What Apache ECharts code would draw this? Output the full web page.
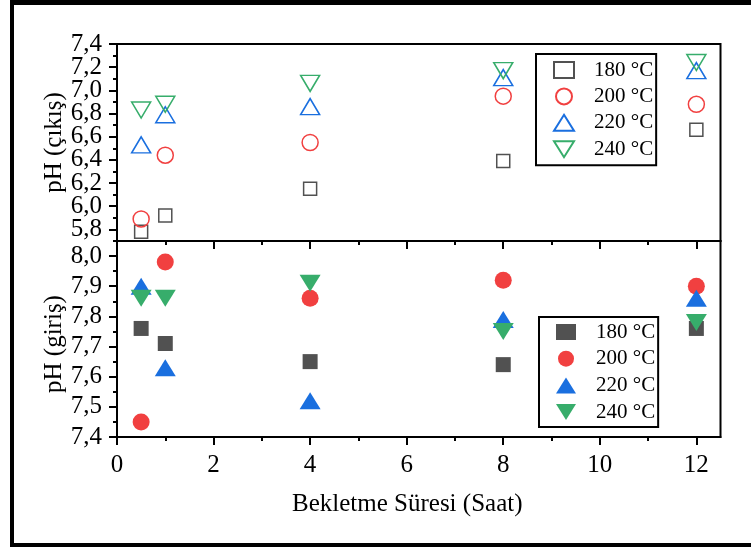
<!DOCTYPE html>
<html>
<head>
<meta charset="utf-8">
<script src="https://cdn.jsdelivr.net/npm/echarts@6/dist/echarts.min.js"></script>
<style>
  html, body { margin: 0; padding: 0; background: #fff; }
  #chart { width: 751px; height: 547px; }
</style>
</head>
<body>
<div id="chart"></div>
<script>
// Bekletme süresi (saat)
const hours = [0.5, 1, 4, 8, 12];

// pH (çıkış) for each temperature
const outlet180 = [5.78, 5.92, 6.15, 6.39, 6.66];
const outlet200 = [5.89, 6.44, 6.55, 6.95, 6.88];
const outlet220 = [6.53, 6.79, 6.86, 7.11, 7.17];
const outlet240 = [6.83, 6.88, 7.06, 7.17, 7.24];

// pH (giriş) for each temperature
const inlet180 = [7.76, 7.71, 7.65, 7.64, 7.76];
const inlet200 = [7.45, 7.98, 7.86, 7.92, 7.90];
const inlet220 = [7.90, 7.63, 7.52, 7.79, 7.86];
const inlet240 = [7.86, 7.86, 7.91, 7.75, 7.78];

const temperatures = ['180 °C', '200 °C', '220 °C', '240 °C'];

// axis ticks and labels
const xMajorTicks = [0, 2, 4, 6, 8, 10, 12];
const xMinorTicks = [1, 3, 5, 7, 9, 11];
const xTickLabels = ['0', '2', '4', '6', '8', '10', '12'];

const outletMajorTicks = [5.8, 6.0, 6.2, 6.4, 6.6, 6.8, 7.0, 7.2, 7.4];
const outletMinorTicks = [5.7, 5.9, 6.1, 6.3, 6.5, 6.7, 6.9, 7.1, 7.3];
const outletTickLabels = ['5,8', '6,0', '6,2', '6,4', '6,6', '6,8', '7,0', '7,2', '7,4'];

const inletMajorTicks = [7.4, 7.5, 7.6, 7.7, 7.8, 7.9, 8.0];
const inletMinorTicks = [7.45, 7.55, 7.65, 7.75, 7.85, 7.95];
const inletTickLabels = ['7,4', '7,5', '7,6', '7,7', '7,8', '7,9', '8,0'];

const outletSeries = [outlet180, outlet200, outlet220, outlet240];
const inletSeries = [inlet180, inlet200, inlet220, inlet240];

const colors = ['#515151', '#F14040', '#1A6FDF', '#37AD6B'];
const shapes = ['rect', 'circle', 'triangle', 'triangle'];
const rotations = [0, 0, 0, 180];
const openSizes = [13, 16, [19, 16], [19, 16]];
const filledSizes = [15, 17, [21, 17], [21, 17]];
// legend icons; the last one is the downward triangle
const legendIcons = ['rect', 'circle', 'triangle', 'path://M0,0L20,0L10,16Z'];

const FONT = '"Liberation Serif", "Times New Roman", serif';

function labelFor(values, labels) {
  return function (v) {
    const i = values.findIndex(t => Math.abs(t - v) < 1e-6);
    return i >= 0 ? labels[i] : '';
  };
}

function tickLabelStyle(values, shown, labels, margin) {
  return {
    show: true, interval: 0, customValues: shown, formatter: labelFor(values, labels),
    showMinLabel: true, showMaxLabel: true, hideOverlap: false,
    fontFamily: FONT, fontSize: 25, lineHeight: 20, color: '#000', margin
  };
}

function majorAxis(gridIndex, min, max, ticks, labelStyle, tickLen, extra) {
  return Object.assign({
    type: 'value', gridIndex, min, max,
    axisLine: { show: true, onZero: false, lineStyle: { color: '#000', width: 2 } },
    axisTick: { show: true, inside: false, interval: 0, length: tickLen, customValues: ticks, lineStyle: { color: '#000', width: 2 } },
    axisLabel: labelStyle || { show: false },
    splitLine: { show: false },
    minorTick: { show: false }
  }, extra);
}

function minorAxis(gridIndex, min, max, ticks, position) {
  return {
    type: 'value', gridIndex, min, max, position,
    axisLine: { show: false, onZero: false },
    axisTick: { show: true, inside: false, interval: 0, length: 4, customValues: ticks, lineStyle: { color: '#000', width: 2 } },
    axisLabel: { show: false },
    splitLine: { show: false }
  };
}

// label-only axis: carries every other tick label so close labels never collide
function labelAxis(gridIndex, min, max, labelStyle, position) {
  return {
    type: 'value', gridIndex, min, max, position,
    axisLine: { show: false, onZero: false },
    axisTick: { show: false },
    axisLabel: labelStyle,
    splitLine: { show: false }
  };
}

const evenOutlet = outletMajorTicks.filter((v, i) => i % 2 === 0);
const oddOutlet = outletMajorTicks.filter((v, i) => i % 2 === 1);

const series = [];
temperatures.forEach((t, i) => {
  series.push({
    type: 'scatter',
    name: t + ' (çıkış)',
    xAxisIndex: 0, yAxisIndex: 0,
    data: hours.map((h, k) => [h, outletSeries[i][k]]),
    symbol: shapes[i], symbolSize: openSizes[i], symbolRotate: rotations[i],
    itemStyle: { color: 'rgba(255,255,255,0)', borderColor: colors[i], borderWidth: 1.5, opacity: 1 },
    emphasis: { disabled: true },
    z: 3 + i
  });
});
temperatures.forEach((t, i) => {
  series.push({
    type: 'scatter',
    name: t + ' (giriş)',
    xAxisIndex: 2, yAxisIndex: 3,
    data: hours.map((h, k) => [h, inletSeries[i][k]]),
    symbol: shapes[i], symbolSize: filledSizes[i], symbolRotate: rotations[i],
    itemStyle: { color: colors[i], borderWidth: 0, opacity: 1 },
    emphasis: { disabled: true },
    z: 3 + i
  });
});

function legendBlock(suffix, left, top, padding, gap) {
  return {
    data: temperatures.map((t, i) => ({ name: t + suffix, icon: legendIcons[i] })),
    orient: 'vertical',
    left, top, padding,
    itemWidth: 20, itemHeight: 16, itemGap: gap,
    borderColor: '#000', borderWidth: 2,
    backgroundColor: '#fff',
    selectedMode: false,
    formatter: n => n.split(' (')[0],
    textStyle: { fontFamily: FONT, fontSize: 21, lineHeight: 22, color: '#000', padding: [0, 0, 0, 15] }
  };
}

const chart = echarts.init(document.getElementById('chart'), null, { renderer: 'canvas' });
chart.setOption({
  animation: false,
  backgroundColor: '#fff',
  grid: [
    { left: 117, top: 44, width: 603.5, height: 197, show: true, borderColor: '#000', borderWidth: 2, backgroundColor: 'transparent' },
    { left: 117, top: 241, width: 603.5, height: 196, show: true, borderColor: '#000', borderWidth: 2, backgroundColor: 'transparent' }
  ],
  xAxis: [
    majorAxis(0, 0, 12.5, xMajorTicks, null, 8, { position: 'bottom' }),
    minorAxis(0, 0, 12.5, xMinorTicks, 'bottom'),
    majorAxis(1, 0, 12.5, xMajorTicks, tickLabelStyle(xMajorTicks, xMajorTicks, xTickLabels, 18), 8, {
      position: 'bottom',
      name: 'Bekletme Süresi (Saat)', nameLocation: 'middle', nameGap: 55, nameMoveOverlap: false,
      nameTextStyle: { fontFamily: FONT, fontSize: 25, color: '#000', padding: [0, 23, 0, 0] }
    }),
    minorAxis(1, 0, 12.5, xMinorTicks, 'bottom')
  ],
  yAxis: [
    majorAxis(0, 5.7, 7.4, outletMajorTicks, tickLabelStyle(outletMajorTicks, evenOutlet, outletTickLabels, 15), 8, {
      position: 'left',
      name: 'pH (çıkış)', nameLocation: 'middle', nameGap: 50, nameRotate: 90, nameMoveOverlap: false,
      nameTextStyle: { fontFamily: FONT, fontSize: 25, color: '#000' }
    }),
    minorAxis(0, 5.7, 7.4, outletMinorTicks, 'left'),
    labelAxis(0, 5.7, 7.4, tickLabelStyle(outletMajorTicks, oddOutlet, outletTickLabels, 15), 'left'),
    majorAxis(1, 7.4, 8.05, inletMajorTicks, tickLabelStyle(inletMajorTicks, inletMajorTicks, inletTickLabels, 15), 8, {
      position: 'left',
      name: 'pH (giriş)', nameLocation: 'middle', nameGap: 50, nameRotate: 90, nameMoveOverlap: false,
      nameTextStyle: { fontFamily: FONT, fontSize: 25, color: '#000', padding: [0, 10, 0, 0] }
    }),
    minorAxis(1, 7.4, 8.05, inletMinorTicks, 'left')
  ],
  legend: [
    legendBlock(' (çıkış)', 536, 54, [5, 3, 5, 17], 4.4),
    legendBlock(' (giriş)', 539, 317, [4, 3, 4, 17], 4.7)
  ],
  graphic: [
    { type: 'rect', silent: true, z: 100, shape: { x: 10, y: 0, width: 741, height: 5 }, style: { fill: '#000' } },
    { type: 'rect', silent: true, z: 100, shape: { x: 10, y: 0, width: 4, height: 547 }, style: { fill: '#000' } },
    { type: 'rect', silent: true, z: 100, shape: { x: 10, y: 543, width: 741, height: 4 }, style: { fill: '#000' } }
  ],
  series
});
</script>
</body>
</html>
